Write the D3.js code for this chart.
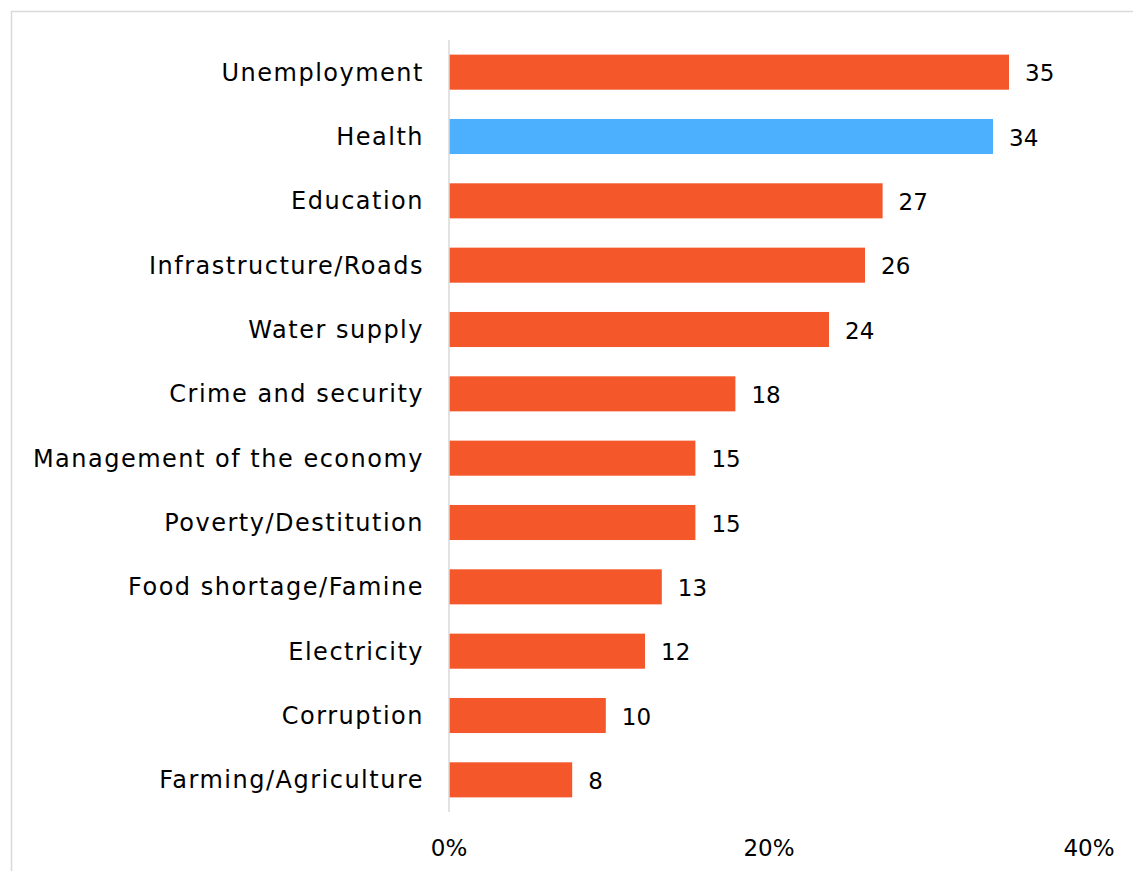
<!DOCTYPE html>
<html>
<head>
<meta charset="UTF-8">
<title>Problems</title>
<script src="https://d3js.org/d3.v7.min.js"></script>
<style>
  body { margin: 0; background: #fff; }
  text { font-family: "DejaVu Sans", sans-serif; fill: #000; }
</style>
</head>
<body>
<div id="chart"></div>
<script>
// data (bar lengths in %, labels rounded)
const categories = ["Unemployment", "Health", "Education", "Infrastructure/Roads", "Water supply",
  "Crime and security", "Management of the economy", "Poverty/Destitution",
  "Food shortage/Famine", "Electricity", "Corruption", "Farming/Agriculture"];
const values = [35, 34, 27.1, 26, 23.75, 17.9, 15.4, 15.4, 13.3, 12.25, 9.8, 7.7];
const highlighted = ["Health"];
const xTicks = [0, 20, 40];

const width = 1133, height = 871;
const margin = {top: 40, right: 44, bottom: 59, left: 449};

const svg = d3.select("#chart").append("svg")
  .attr("width", width)
  .attr("height", height);

// outer frame
svg.append("rect")
  .attr("x", 11.5).attr("y", 11.5)
  .attr("width", width).attr("height", height)
  .attr("fill", "none").attr("stroke", "#d9d9d9").attr("stroke-width", 1.5);

const x = d3.scaleLinear().domain([0, 40]).range([margin.left, width - margin.right]);
const y = d3.scaleBand().domain(categories)
  .range([margin.top, height - margin.bottom])
  .paddingInner(0.455).paddingOuter(0.2275);

// bars
svg.selectAll("rect.bar")
  .data(categories)
  .join("rect")
  .attr("class", "bar")
  .attr("x", x(0))
  .attr("y", d => y(d))
  .attr("width", (d, i) => x(values[i]) - x(0))
  .attr("height", y.bandwidth())
  .attr("fill", d => highlighted.includes(d) ? "#4db0fe" : "#f4572a");

// vertical axis line
svg.append("line")
  .attr("x1", x(0)).attr("x2", x(0))
  .attr("y1", margin.top).attr("y2", height - margin.bottom)
  .attr("stroke", "#d9d9d9").attr("stroke-width", 1.5);

// category labels (letter-spacing to get closer to the wide original face)
svg.selectAll("text.cat")
  .data(categories)
  .join("text")
  .attr("class", "cat")
  .attr("x", x(0) - 25)
  .attr("y", d => y(d) + y.bandwidth() / 2)
  .attr("dy", "0.35em")
  .attr("text-anchor", "end")
  .attr("font-size", 24)
  .attr("letter-spacing", 1.5)
  .text(d => d);

// value labels
svg.selectAll("text.val")
  .data(categories)
  .join("text")
  .attr("class", "val")
  .attr("x", (d, i) => x(values[i]) + 16)
  .attr("y", d => y(d) + y.bandwidth() / 2)
  .attr("dy", "0.4em")
  .attr("font-size", 23)
  .text((d, i) => d3.format(".0f")(values[i]));

// x tick labels
svg.selectAll("text.tick")
  .data(xTicks)
  .join("text")
  .attr("class", "tick")
  .attr("x", d => x(d))
  .attr("y", 848)
  .attr("dy", "0.35em")
  .attr("text-anchor", "middle")
  .attr("font-size", 23)
  .text(d => d + "%");
</script>
</body>
</html>
